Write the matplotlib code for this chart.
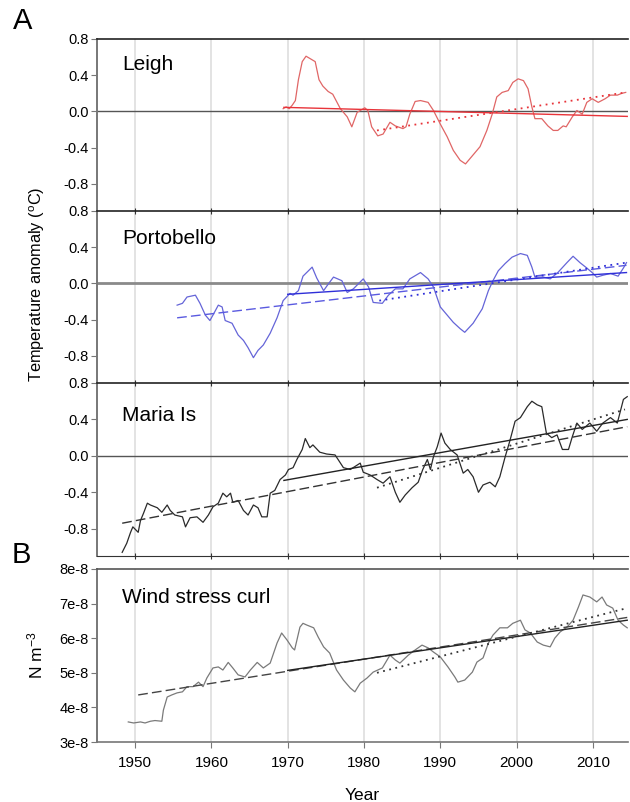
import numpy as np
import matplotlib.pyplot as plt

plt.rcParams['font.family'] = ['Liberation Sans', 'DejaVu Sans']
plt.rcParams['mathtext.default'] = 'regular'

# Leigh running mean
leigh_yr = [1969.4, 1969.8, 1970.2, 1970.6, 1971.0, 1971.4, 1971.9, 1972.4, 1973.0, 1973.6,
            1974.1, 1974.6, 1975.3, 1975.9, 1976.9, 1977.8, 1978.4, 1979.1, 1980.1, 1980.5,
            1981.0, 1981.8, 1982.5, 1983.4, 1984.1, 1985.1, 1985.5, 1986.0, 1986.7, 1987.4,
            1988.4, 1989.1, 1990.0, 1990.9, 1991.7, 1992.6, 1993.3, 1993.9, 1995.2, 1996.1,
            1996.8, 1997.4, 1998.1, 1998.9, 1999.5, 2000.2, 2000.9, 2001.5, 2002.0, 2002.4,
            2003.3, 2004.1, 2004.8, 2005.4, 2006.1, 2006.5, 2007.3, 2007.9, 2008.6, 2009.2,
            2009.9, 2010.7, 2011.6, 2012.3, 2013.2, 2013.8, 2014.3]
leigh_val = [0.03, 0.05, 0.03, 0.07, 0.12, 0.35, 0.55, 0.61, 0.58, 0.55,
             0.35, 0.28, 0.22, 0.19, 0.03, -0.06, -0.17, -0.01, 0.04, 0.01,
             -0.17, -0.27, -0.25, -0.12, -0.16, -0.19, -0.17, -0.03, 0.11, 0.12,
             0.10, 0.01, -0.14, -0.28, -0.43, -0.54, -0.58, -0.52, -0.39, -0.21,
             -0.03, 0.16, 0.21, 0.23, 0.32, 0.36, 0.34, 0.25, 0.05, -0.08,
             -0.08, -0.16, -0.21, -0.21, -0.16, -0.17, -0.06, 0.01, -0.03, 0.10,
             0.14, 0.10, 0.14, 0.18, 0.18, 0.20, 0.21]

# Portobello running mean
porto_yr = [1955.5, 1956.2, 1956.8, 1957.9, 1958.5, 1959.2, 1959.8, 1960.2, 1960.9, 1961.4,
            1961.8, 1962.7, 1963.5, 1964.2, 1964.8, 1965.5, 1966.1, 1966.8, 1967.7, 1968.6,
            1969.4, 1970.3, 1970.7, 1971.4, 1972.0, 1973.2, 1973.8, 1974.7, 1975.2, 1976.0,
            1977.1, 1977.8, 1978.6, 1979.9, 1980.6, 1981.2, 1982.4, 1983.2, 1984.1, 1985.1,
            1986.0, 1987.4, 1988.4, 1989.1, 1990.0, 1990.9, 1991.7, 1992.6, 1993.2, 1994.3,
            1995.5, 1996.3, 1996.9, 1997.6, 1998.5, 1999.4, 2000.5, 2001.4, 2002.0, 2002.4,
            2003.5, 2004.4, 2005.4, 2006.6, 2007.4, 2008.3, 2009.2, 2009.9, 2010.5, 2011.3,
            2012.3, 2013.3, 2014.0, 2014.4]
porto_val = [-0.24, -0.22, -0.15, -0.13, -0.22, -0.35, -0.41, -0.35, -0.24, -0.26,
             -0.41, -0.44, -0.57, -0.63, -0.71, -0.82, -0.74, -0.68, -0.55, -0.38,
             -0.19, -0.11, -0.13, -0.08, 0.08, 0.18, 0.06, -0.08, -0.02, 0.07,
             0.03, -0.10, -0.06, 0.05, -0.04, -0.21, -0.22, -0.13, -0.06, -0.06,
             0.05, 0.12, 0.05, -0.04, -0.26, -0.35, -0.43, -0.50, -0.54, -0.44,
             -0.28, -0.08, 0.03, 0.14, 0.22, 0.29, 0.33, 0.31, 0.18, 0.07,
             0.07, 0.05, 0.12, 0.23, 0.30, 0.23, 0.17, 0.12, 0.07, 0.09,
             0.11, 0.08, 0.17, 0.23]

# Maria Is running mean
maria_yr = [1948.3, 1948.9, 1949.4, 1949.7, 1950.4, 1950.7, 1951.1, 1951.6, 1952.0, 1952.9,
            1953.5, 1954.2, 1954.6, 1955.2, 1956.2, 1956.6, 1957.2, 1958.1, 1958.9, 1959.6,
            1960.2, 1960.9, 1961.5, 1962.0, 1962.5, 1962.8, 1963.5, 1964.2, 1964.8, 1965.5,
            1966.1, 1966.6, 1967.3, 1967.7, 1968.3, 1969.0, 1969.7, 1970.1, 1970.7, 1971.2,
            1971.9, 1972.3, 1972.9, 1973.3, 1974.2, 1975.1, 1976.2, 1976.6, 1977.3, 1978.2,
            1979.5, 1979.9, 1980.8, 1981.7, 1982.5, 1983.4, 1984.1, 1984.7, 1985.4, 1986.3,
            1987.1, 1987.7, 1988.3, 1988.7, 1989.1, 1989.6, 1990.1, 1990.6, 1991.3, 1992.2,
            1993.0, 1993.6, 1994.3, 1995.0, 1995.6, 1996.5, 1997.2, 1997.8, 1998.5, 1999.1,
            1999.8, 2000.5, 2001.4, 2002.0, 2002.7, 2003.3, 2003.9, 2004.6, 2005.3, 2006.0,
            2006.8, 2007.3, 2007.9, 2008.6, 2009.6, 2010.5, 2011.3, 2012.3, 2013.2, 2013.6,
            2014.0, 2014.5]
maria_val = [-1.06, -0.96, -0.84, -0.78, -0.84, -0.71, -0.63, -0.52, -0.54, -0.57,
             -0.62, -0.54, -0.60, -0.65, -0.67, -0.78, -0.68, -0.67, -0.73, -0.65,
             -0.56, -0.52, -0.41, -0.45, -0.41, -0.51, -0.49, -0.60, -0.65, -0.54,
             -0.57, -0.67, -0.67, -0.41, -0.38, -0.26, -0.21, -0.15, -0.13, -0.04,
             0.07, 0.19, 0.09, 0.12, 0.04, 0.02, 0.01, -0.04, -0.13, -0.15,
             -0.08, -0.18, -0.21, -0.26, -0.30, -0.23, -0.40, -0.51, -0.43, -0.35,
             -0.29, -0.15, -0.04, -0.15, -0.01, 0.10, 0.25, 0.14, 0.07, 0.01,
             -0.19, -0.15, -0.23, -0.40, -0.32, -0.29, -0.34, -0.23, -0.01, 0.16,
             0.38, 0.42, 0.54, 0.60, 0.56, 0.54, 0.25, 0.20, 0.23, 0.07,
             0.07, 0.21, 0.36, 0.29, 0.36, 0.27, 0.36, 0.42, 0.36, 0.49,
             0.62, 0.65]

# Wind stress curl running mean (units of 1e-8 N m^-3)
wind_yr = [1949.1, 1949.8, 1950.7, 1951.3, 1952.0, 1952.6, 1953.5, 1953.7, 1954.2, 1954.8,
           1955.5, 1956.2, 1956.8, 1957.6, 1958.3, 1958.9, 1959.4, 1960.2, 1960.9, 1961.5,
           1962.2, 1962.8, 1963.5, 1964.4, 1965.1, 1966.0, 1966.8, 1967.7, 1968.6, 1969.2,
           1969.9, 1970.6, 1970.9, 1971.6, 1972.0, 1972.5, 1973.4, 1974.0, 1974.7, 1975.5,
           1976.4, 1977.3, 1978.2, 1978.8, 1979.5, 1980.4, 1981.2, 1982.4, 1983.4, 1984.1,
           1984.7, 1985.8, 1986.7, 1987.6, 1988.4, 1989.1, 1990.0, 1991.0, 1991.9, 1992.3,
           1993.2, 1994.2, 1994.8, 1995.6, 1996.3, 1996.9, 1997.8, 1998.8, 1999.5, 2000.5,
           2001.1, 2001.8, 2002.7, 2003.5, 2004.4, 2005.0, 2005.7, 2006.6, 2007.4, 2008.1,
           2008.7, 2009.6, 2010.5, 2011.2, 2011.8, 2012.6, 2013.3, 2014.0, 2014.5]
wind_val = [3.58, 3.55, 3.58, 3.55, 3.60, 3.62, 3.60, 3.92, 4.30, 4.36,
            4.42, 4.45, 4.60, 4.60, 4.73, 4.60, 4.85, 5.14, 5.17, 5.08,
            5.30, 5.14, 4.94, 4.88, 5.08, 5.30, 5.14, 5.28, 5.86, 6.15,
            5.95, 5.72, 5.66, 6.32, 6.43, 6.38, 6.30, 6.03, 5.75, 5.57,
            5.08, 4.79, 4.56, 4.45, 4.70, 4.85, 5.02, 5.14, 5.51, 5.37,
            5.28, 5.51, 5.66, 5.80, 5.72, 5.60, 5.46, 5.17, 4.88, 4.73,
            4.79, 5.02, 5.31, 5.43, 5.86, 6.09, 6.30, 6.30, 6.43, 6.52,
            6.24, 6.15, 5.89, 5.80, 5.75, 6.00, 6.18, 6.32, 6.52, 6.90,
            7.25, 7.19, 7.05, 7.19, 6.96, 6.87, 6.52, 6.38, 6.30]

# linear trends: (start year, end year, start value, end value)
leigh_solid = [1969.5, 2014.5, 0.045, -0.055]
leigh_dot = [1981.7, 2014.3, -0.21, 0.21]
porto_dash = [1955.5, 2014.4, -0.38, 0.20]
porto_solid = [1970.0, 2014.4, -0.12, 0.12]
porto_dot = [1982.0, 2014.4, -0.19, 0.23]
maria_dash = [1948.3, 2014.5, -0.74, 0.32]
maria_solid = [1969.5, 2014.5, -0.27, 0.40]
maria_dot = [1981.7, 2014.2, -0.35, 0.51]
wind_dash = [1950.4, 2014.5, 4.36, 6.60]
wind_solid = [1970.0, 2014.5, 5.07, 6.52]
wind_dot = [1981.7, 2014.3, 5.00, 6.86]

decades = [1950, 1960, 1970, 1980, 1990, 2000, 2010]
temp_ticks = [-0.8, -0.4, 0.0, 0.4, 0.8]
wind_ticks = [3, 4, 5, 6, 7, 8]

fig = plt.figure(figsize=(6.3, 8.02), dpi=100)
L, W = 97 / 630, 531 / 630


def ax_at(top_px, bot_px):
    return fig.add_axes([L, 1 - bot_px / 802, W, (bot_px - top_px) / 802])


def style(ax):
    ax.set_xlim(1945, 2014.6)
    for d in decades:
        ax.axvline(d, color='#e3e3e3', lw=1.4, zorder=0)
    ax.spines['right'].set_visible(False)
    ax.spines['left'].set_color('#777777')
    ax.spines['left'].set_linewidth(1.4)
    ax.spines['top'].set_color('#222222')
    ax.spines['top'].set_linewidth(1.2)
    ax.tick_params(axis='y', direction='out', length=4, color='#777777',
                   labelsize=10.5, pad=2)
    ax.set_xticks(decades)


def trend(ax, t, color, ls, lw=1.0):
    ax.plot(t[:2], t[2:], color=color, ls=ls, lw=lw)


panels = [(39, 211), (211, 383), (383, 556)]
axes = [ax_at(a, b) for a, b in panels]
for i, ax in enumerate(axes):
    style(ax)
    ax.set_ylim(-1.1, 0.8)
    ax.set_yticks(temp_ticks)
    ax.set_yticklabels(['%.1f' % v for v in temp_ticks])
    ax.spines['bottom'].set_visible(i == 2)
    ax.spines['bottom'].set_color('#333333')
    ax.tick_params(axis='x', which='both', bottom=(i == 2), top=(i > 0),
                   direction='inout', length=5, labelbottom=False, color='#333333')

ax1, ax2, ax3 = axes
ax1.axhline(0, color='#555555', lw=1.0, zorder=1)
ax1.plot(leigh_yr, leigh_val, color='#e06666', lw=0.9)
trend(ax1, leigh_solid, '#e8343a', '-')
trend(ax1, leigh_dot, '#e8343a', (0, (1, 2.5)), lw=1.3)
ax1.text(1948.3, 0.457, 'Leigh', fontsize=15, va='baseline')

ax2.axhline(0, color='#8a8a8a', lw=2.0, zorder=1)
ax2.plot(porto_yr, porto_val, color='#6565d8', lw=0.9)
trend(ax2, porto_dash, '#5a5ae0', (0, (7, 3)))
trend(ax2, porto_solid, '#2f2fd8', '-')
trend(ax2, porto_dot, '#2f2fd8', (0, (1, 2.5)), lw=1.3)
ax2.text(1948.3, 0.436, 'Portobello', fontsize=15, va='baseline')

ax3.axhline(0, color='#555555', lw=1.0, zorder=1)
ax3.plot(maria_yr, maria_val, color='#2a2a2a', lw=0.9)
trend(ax3, maria_dash, '#333333', (0, (7, 3)))
trend(ax3, maria_solid, '#222222', '-')
trend(ax3, maria_dot, '#333333', (0, (1, 2.5)), lw=1.3)
ax3.text(1948.3, 0.38, 'Maria Is', fontsize=15, va='baseline')

ax4 = ax_at(569, 742)
style(ax4)
ax4.set_ylim(3, 8)
ax4.set_yticks(wind_ticks)
ax4.set_yticklabels(['%de-8' % v for v in wind_ticks])
ax4.spines['bottom'].set_color('#777777')
ax4.spines['bottom'].set_linewidth(1.2)
ax4.spines['top'].set_color('#555555')
ax4.tick_params(axis='x', direction='out', length=4, color='#777777',
                labelsize=11, pad=6)
ax4.plot(wind_yr, wind_val, color='#7a7a7a', lw=0.9)
trend(ax4, wind_dash, '#444444', (0, (7, 3)))
trend(ax4, wind_solid, '#222222', '-')
trend(ax4, wind_dot, '#333333', (0, (1, 2.5)), lw=1.3)
ax4.text(1948.3, 7.02, 'Wind stress curl', fontsize=15, va='baseline')
ax4.set_xlabel('Year', fontsize=12.5, labelpad=13)

fig.text(13 / 630, 1 - 21 / 802, 'A', fontsize=21, va='center')
fig.text(12 / 630, 1 - 555 / 802, 'B', fontsize=21, va='center')
fig.text(37 / 630, 1 - 284 / 802, 'Temperature anomaly ($^{o}$C)', fontsize=11.8,
         rotation=90, ha='center', va='center')
fig.text(35 / 630, 1 - 655 / 802, 'N m$^{-3}$', fontsize=12.5,
         rotation=90, ha='center', va='center')

fig.savefig('out.png', dpi=100)
